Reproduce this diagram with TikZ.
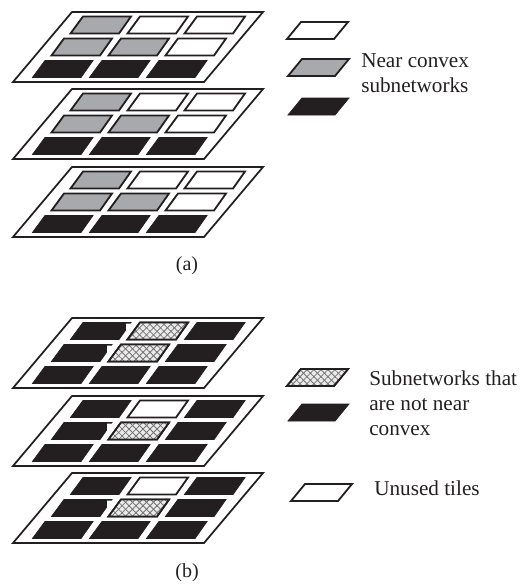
\documentclass[tikz,border=0pt]{standalone}
\usepackage{fontspec}
\setmainfont{Liberation Serif}
\usetikzlibrary{patterns.meta}
\definecolor{tileblack}{HTML}{231F20}
\definecolor{tilegray}{HTML}{A7A9AC}
\tikzset{
  x=0.75pt,y=-0.75pt,
  plate/.style={draw=tileblack,line width=1.3pt,fill=white,line join=miter},
  wtile/.style={draw=tileblack,line width=1.35pt,fill=white},
  gtile/.style={draw=tileblack,line width=1.35pt,fill=tilegray},
  ktile/.style={draw=tileblack,line width=0.6pt,fill=tileblack},
  htile/.style={draw=tileblack,line width=1.35pt,
    postaction={draw=none,fill=white!92!black},
    postaction={draw=none,pattern={Lines[angle=45,distance=3.7pt,line width=0.6pt]},pattern color=black!55},
    postaction={draw=none,pattern={Lines[angle=-45,distance=3.7pt,line width=0.6pt]},pattern color=black!55},
    postaction={draw=tileblack,line width=1.35pt}},
  lab/.style={font=\fontsize{15.9pt}{18.8pt}\selectfont,anchor=west,align=left,text=tileblack,inner sep=0pt},
  captext/.style={font=\fontsize{15pt}{17pt}\selectfont,text=tileblack,inner sep=0pt}
}
% plate frame at vertical offset #1
\newcommand{\plateat}[1]{\draw[plate] (72,12+#1) -- (263,12+#1) -- (204,82+#1) -- (13,82+#1) -- cycle;}
% tile: style, column (0-2), row (0-2), vertical offset
\newcommand{\tileat}[4]{%
  \pgfmathsetmacro{\dx}{57*#2-19*#3}%
  \pgfmathsetmacro{\dy}{22*#3+#4}%
  \draw[#1] (83+\dx,16.5+\dy) -- (131+\dx,16.5+\dy) -- (119+\dx,33.5+\dy) -- (70.5+\dx,33.5+\dy) -- cycle;}
% white sliver cut from the upper right corner of a black tile: row, vertical offset
\newcommand{\notchat}[2]{%
  \pgfmathsetmacro{\dx}{-19*#1}%
  \pgfmathsetmacro{\dy}{22*#1+#2}%
  \fill[white] (126+\dx,17.6+\dy) -- (134+\dx,17.6+\dy) -- (126+\dx,26+\dy) -- cycle;}
% legend tile with its lower-left corner at (#2,#3)
\newcommand{\keytile}[3]{\draw[#1] (#2+14,#3-17) -- (#2+61,#3-17) -- (#2+47,#3) -- (#2,#3) -- cycle;}
\begin{document}
\begin{tikzpicture}
\useasboundingbox (0,0) rectangle (525,586);
% part (a)
\foreach \o in {0,77,155}{
  \plateat{\o}
  \tileat{gtile}{0}{0}{\o}\tileat{wtile}{1}{0}{\o}\tileat{wtile}{2}{0}{\o}
  \tileat{gtile}{0}{1}{\o}\tileat{gtile}{1}{1}{\o}\tileat{wtile}{2}{1}{\o}
  \tileat{ktile}{0}{2}{\o}\tileat{ktile}{1}{2}{\o}\tileat{ktile}{2}{2}{\o}
}
\keytile{wtile}{287}{39}
\keytile{gtile}{288}{76}
\keytile{ktile}{288}{115}
\node[lab] (nearconvex) at (361,73) {Near convex\\subnetworks};
\node[captext] (capa) at (187,266) {(a)};
% part (b)
\foreach \o/\s in {306/htile,384/wtile,461/wtile}{
  \plateat{\o}
  \tileat{ktile}{0}{0}{\o}\tileat{\s}{1}{0}{\o}\tileat{ktile}{2}{0}{\o}
  \tileat{ktile}{0}{1}{\o}\tileat{htile}{1}{1}{\o}\tileat{ktile}{2}{1}{\o}
  \tileat{ktile}{0}{2}{\o}\tileat{ktile}{1}{2}{\o}\tileat{ktile}{2}{2}{\o}
  \notchat{1}{\o}
}
\notchat{0}{306}
\keytile{htile}{287}{386}
\keytile{ktile}{288}{421}
\keytile{wtile}{291}{501}
\node[lab] (notnear) at (369,403) {Subnetworks that\\are not near\\convex};
\node[lab] (unused) at (374,488) {Unused tiles};
\node[captext] (capb) at (187,573) {(b)};
\end{tikzpicture}
\end{document}
